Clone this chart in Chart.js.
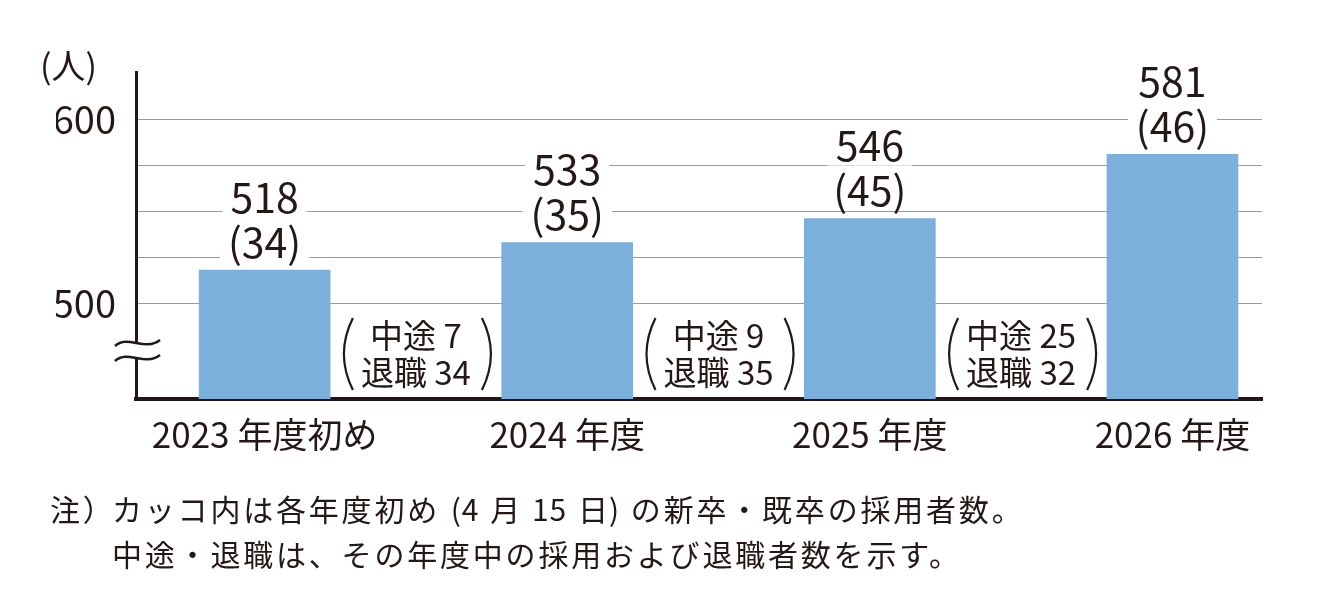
<!DOCTYPE html>
<html lang="ja">
<head>
<meta charset="UTF-8">
<title>採用者数の推移</title>
<script src="https://cdn.jsdelivr.net/npm/chart.js@4.4.1/dist/chart.umd.min.js"></script>
<style>
    body {
        margin: 0;
        background: #fff;
        font-family: 'Noto Sans CJK JP', 'Noto Sans', sans-serif;
        color: #231815;
    }
    .wrap {
        position: relative;
        width: 1334px;
        height: 613px;
    }
    .unit {
        position: absolute;
        left: 40px;
        top: 40px;
        font-size: 34px;
    }
    .note {
        position: absolute;
        top: 486px;
        font-size: 30px;
        line-height: 45px;
        letter-spacing: 2.8px;
        white-space: nowrap;
    }
    .note .num {
        letter-spacing: 1px;
        word-spacing: 3px;
    }
</style>
</head>
<body>
<div class="wrap">
    <canvas id="chart" width="1334" height="613"></canvas>
    <div class="unit">(人)</div>
    <div class="note" style="left:50px">注）</div>
    <div class="note" style="left:112px">カッコ内は各年度初め<span class="num"> (4 月 15 日) </span>の新卒・既卒の採用者数。<br>中途・退職は、その年度中の採用および退職者数を示す。</div>
</div>

<script>
    // データ
    const years = ['2023 年度初め', '2024 年度', '2025 年度', '2026 年度'];
    const totals = [518, 533, 546, 581];
    const newGrads = [34, 35, 45, 46];
    const midCareer = [7, 9, 25];
    const retired = [34, 35, 32];
    const yTicks = [500, 525, 550, 575, 600];
    const yLabelTicks = [500, 600];

    const ink = '#231815';
    const jpFont = "'Noto Sans CJK JP', sans-serif";

    // 棒の上の数値（白地で罫線を切る）
    const valueLabels = {
        id: 'valueLabels',
        afterDatasetsDraw(chart) {
            const ctx = chart.ctx;
            const meta = chart.getDatasetMeta(0);
            ctx.save();
            ctx.font = '41px ' + jpFont;
            ctx.textAlign = 'center';
            ctx.textBaseline = 'middle';
            meta.data.forEach((bar, i) => {
                const lines = [String(totals[i]), '(' + newGrads[i] + ')'];
                const offs = [-73, -28];
                lines.forEach((t, k) => {
                    const w = ctx.measureText(t).width;
                    const cy = bar.y + offs[k];
                    ctx.fillStyle = '#fff';
                    ctx.fillRect(bar.x - w / 2 - 8, cy - 20, w + 16, 40);
                    ctx.fillStyle = ink;
                    ctx.fillText(t, bar.x, cy);
                });
            });
            ctx.restore();
        }
    };

    // 棒の間の（中途・退職）注記と波線
    const extras = {
        id: 'extras',
        afterDraw(chart) {
            const ctx = chart.ctx;
            const xs = chart.scales.x;
            const area = chart.chartArea;
            ctx.save();
            ctx.font = '33px ' + jpFont;
            ctx.textAlign = 'center';
            ctx.textBaseline = 'middle';
            ctx.fillStyle = ink;
            ctx.strokeStyle = ink;
            ctx.lineWidth = 2.2;
            midCareer.forEach((m, i) => {
                const cx = xs.getPixelForValue(i + 0.5);
                const l1 = '中途 ' + m;
                const l2 = '退職 ' + retired[i];
                const w = Math.max(ctx.measureText(l1).width, ctx.measureText(l2).width);
                ctx.fillText(l1, cx, area.bottom - 64);
                ctx.fillText(l2, cx, area.bottom - 27);
                const top = area.bottom - 81, bot = area.bottom - 9, mid = (top + bot) / 2;
                const lx = cx - w / 2 - 17, rx = cx + w / 2 + 20;
                ctx.beginPath();
                ctx.moveTo(lx + 9, top);
                ctx.quadraticCurveTo(lx - 9, mid, lx + 9, bot);
                ctx.stroke();
                ctx.beginPath();
                ctx.moveTo(rx - 9, top);
                ctx.quadraticCurveTo(rx + 9, mid, rx - 9, bot);
                ctx.stroke();
            });

            // 省略の波線
            const ax = area.left;
            const tilde = (y) => {
                ctx.moveTo(ax - 21, y + 3);
                ctx.bezierCurveTo(ax - 8, y - 9, ax + 8, y + 9, ax + 24, y - 3);
            };
            const y1 = 343, y2 = 358;
            ctx.fillStyle = '#fff';
            ctx.beginPath();
            ctx.moveTo(ax - 21, y1 + 3);
            ctx.bezierCurveTo(ax - 8, y1 - 9, ax + 8, y1 + 9, ax + 24, y1 - 3);
            ctx.lineTo(ax + 24, y2 - 3);
            ctx.bezierCurveTo(ax + 8, y2 + 9, ax - 8, y2 - 9, ax - 21, y2 + 3);
            ctx.closePath();
            ctx.fill();
            ctx.lineWidth = 2.5;
            ctx.beginPath();
            tilde(y1);
            tilde(y2);
            ctx.stroke();
            ctx.restore();
        }
    };

    new Chart(document.getElementById('chart'), {
        type: 'bar',
        data: {
            datasets: [{
                data: totals.map((v, i) => ({ x: i, y: v })),
                backgroundColor: '#7BB0DD',
                barThickness: 131
            }]
        },
        options: {
            responsive: false,
            animation: false,
            devicePixelRatio: 1,
            layout: { padding: { left: 56, right: 72, top: 72, bottom: 154 } },
            plugins: { legend: { display: false }, tooltip: { enabled: false } },
            scales: {
                x: {
                    type: 'linear',
                    offset: false,
                    min: -0.425,
                    max: 3.296,
                    afterBuildTicks: s => { s.ticks = years.map((_, i) => ({ value: i })); },
                    afterFit: s => { s.height = 60; },
                    ticks: {
                        callback: v => years[v],
                        autoSkip: false,
                        maxRotation: 0,
                        padding: 15,
                        color: ink,
                        font: { family: jpFont, size: 35 }
                    },
                    grid: { display: false, drawTicks: false, offset: false },
                    border: { color: ink, width: 4 }
                },
                y: {
                    min: 448,
                    max: 625.7,
                    afterBuildTicks: s => { s.ticks = yTicks.map(v => ({ value: v })); },
                    afterFit: s => { s.width = 80; },
                    ticks: {
                        callback: v => yLabelTicks.includes(v) ? String(v) : '',
                        padding: 20,
                        color: ink,
                        font: { family: jpFont, size: 38 }
                    },
                    grid: { color: '#9a9a9a', lineWidth: 1, drawTicks: false },
                    border: { color: ink, width: 3 }
                }
            }
        },
        plugins: [valueLabels, extras]
    });
</script>
</body>
</html>
